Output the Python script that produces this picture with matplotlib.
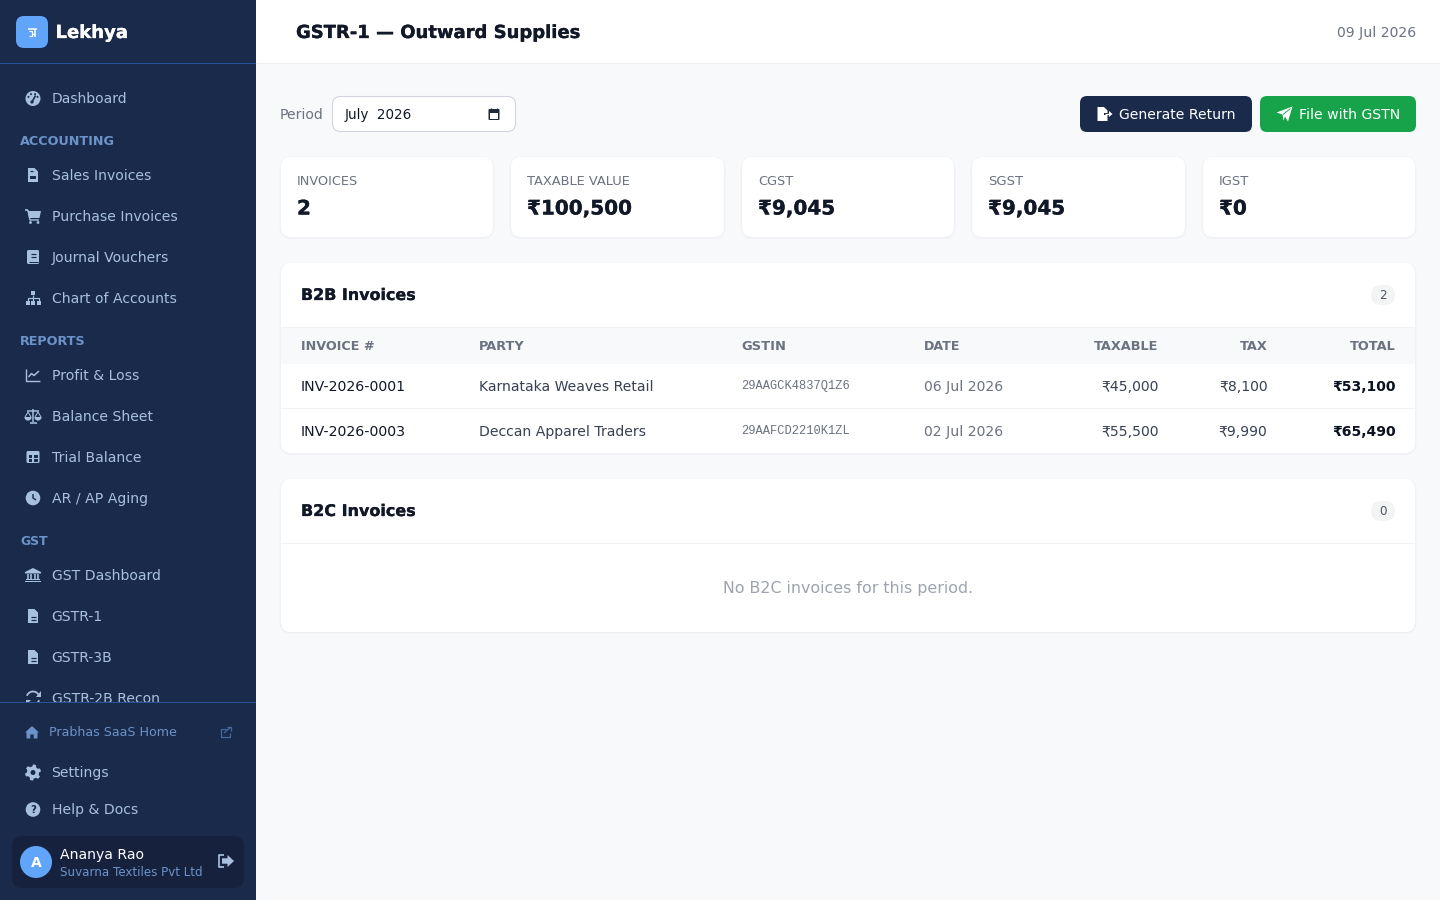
import numpy as np
import matplotlib
matplotlib.use("Agg")
import matplotlib.pyplot as plt
import matplotlib.patheffects as pe
from matplotlib.patches import FancyBboxPatch, Rectangle, Circle, Polygon, Wedge

# ---------- content ----------
brand = "Lekhya"
page_title = "GSTR-1 — Outward Supplies"
page_date = "09 Jul 2026"
period_label = "Period"
period_value = "July  2026"
btn_generate = "Generate Return"
btn_file = "File with GSTN"

nav_top = ["Dashboard"]
nav_accounting = ["Sales Invoices", "Purchase Invoices", "Journal Vouchers", "Chart of Accounts"]
nav_reports = ["Profit & Loss", "Balance Sheet", "Trial Balance", "AR / AP Aging"]
nav_gst = ["GST Dashboard", "GSTR-1", "GSTR-3B", "GSTR-2B Recon"]
sections = ["ACCOUNTING", "REPORTS", "GST"]
footer_link = "Prabhas SaaS Home"
footer_nav = ["Settings", "Help & Docs"]
user_initial = "A"
user_name = "Ananya Rao"
user_org = "Suvarna Textiles Pvt Ltd"

kpi_labels = ["INVOICES", "TAXABLE VALUE", "CGST", "SGST", "IGST"]
kpi_values = ["2", "₹100,500", "₹9,045", "₹9,045", "₹0"]

b2b_title = "B2B Invoices"
b2b_count = "2"
table_headers = ["INVOICE #", "PARTY", "GSTIN", "DATE", "TAXABLE", "TAX", "TOTAL"]
invoice_ids = ["INV-2026-0001", "INV-2026-0003"]
parties = ["Karnataka Weaves Retail", "Deccan Apparel Traders"]
gstins = ["29AAGCK4837Q1Z6", "29AAFCD2210K1ZL"]
dates = ["06 Jul 2026", "02 Jul 2026"]
taxable = ["₹45,000", "₹55,500"]
tax = ["₹8,100", "₹9,990"]
totals = ["₹53,100", "₹65,490"]

b2c_title = "B2C Invoices"
b2c_count = "0"
b2c_empty = "No B2C invoices for this period."

# ---------- palette ----------
NAVY = "#1a2a4a"
NAVY_DK = "#16213e"
RULE = "#2a5298"
BLUE = "#60a5fa"
NAV = "#a8c0e0"
SEC = "#6b93c9"
LINK = "#6b93c9"
BG = "#f8f9fb"
INK = "#111827"
INK2 = "#374151"
MUTE = "#6b7280"
FAINT = "#9ca3af"
LINE = "#f1f2f5"
GREEN = "#16a34a"

plt.rcParams["font.family"] = ["DejaVu Sans"]
fig = plt.figure(figsize=(14.4, 9), dpi=100, facecolor=BG)
ax = fig.add_axes([0, 0, 1, 1])
ax.set_xlim(0, 1440)
ax.set_ylim(900, 0)
ax.axis("off")
PX = 0.72
ZB = 0.0  # z-offset; raised while drawing above the sidebar footer panel


def T(x, y, s, px=14, color=INK, weight="normal", ha="left", family=None, width=None, z=5):
    t = ax.text(x, y, s, fontsize=px * PX, color=color, fontweight=weight, ha=ha, va="baseline",
                zorder=z + ZB, family=family or "DejaVu Sans")
    if width:
        r = fig.canvas.get_renderer()
        w = t.get_window_extent(r).width
        t.set_fontsize(px * PX * width / w)
    if weight == "bold" and px >= 17:
        t.set_path_effects([pe.withStroke(linewidth=0.2, foreground=color)])
    return t


def RR(x0, y0, x1, y1, r, fc, ec="none", lw=0, z=1):
    p = FancyBboxPatch((x0 + r, y0 + r), x1 - x0 - 2 * r, y1 - y0 - 2 * r,
                       boxstyle=f"round,pad={r},rounding_size={r}", fc=fc, ec=ec, lw=lw, zorder=z + ZB,
                       mutation_aspect=1)
    ax.add_patch(p)
    return p


def R(x0, y0, x1, y1, fc, z=1):
    ax.add_patch(Rectangle((x0, y0), x1 - x0, y1 - y0, fc=fc, ec="none", zorder=z + ZB))


def C(x, y, r, fc, z=4):
    ax.add_patch(Circle((x, y), r, fc=fc, ec="none", zorder=z + ZB))


def P(pts, fc, z=4):
    ax.add_patch(Polygon(pts, closed=True, fc=fc, ec="none", zorder=z + ZB))


def L(xs, ys, c, lw=1.2, z=4.5):
    ax.plot(xs, ys, color=c, lw=lw * PX, solid_capstyle="butt", zorder=z + ZB)


def card(x0, y0, x1, y1, r=10):
    for g, col in ((2, "#f3f4f7"), (1, "#eef0f3")):
        RR(x0 - g + 0.5, y0 - g + 1.5, x1 + g - 0.5, y1 + g, r + g, col, z=1)
    RR(x0, y0, x1, y1, r, "white", z=1.2)


# ---------- icons ----------
def ic_doc(x, y, c=NAV, kind="lines"):
    P([(x - 5, y - 7), (x + 1.5, y - 7), (x + 5, y - 3.5), (x + 5, y + 7), (x - 5, y + 7)], c)
    if kind == "lines":
        L([x - 2.5, x + 2.5], [y + 1, y + 1], NAVY)
        L([x - 2.5, x + 2.5], [y + 3.8, y + 3.8], NAVY)
    else:
        R(x - 3, y + 0.5, x + 3, y + 4, NAVY, z=4.5)
        L([x - 3, x - 0.5], [y - 4, y - 4], NAVY)


def ic_gauge(x, y, c=NAV):
    C(x, y, 7.5, c)
    for a in (200, 245, 295, 340):
        C(x + 4.8 * np.cos(np.radians(a)), y + 4.8 * np.sin(np.radians(a)), 1, NAVY, z=4.5)
    L([x - 1, x + 2.5], [y + 3.5, y - 3], NAVY, 1.6)
    C(x - 1, y + 3.5, 1.6, NAVY, z=4.5)


def ic_cart(x, y, c=NAV):
    L([x - 8, x - 5], [y - 6, y - 6], c, 1.6)
    P([(x - 5.5, y - 5), (x + 8, y - 5), (x + 6.5, y + 2), (x - 4, y + 2)], c)
    L([x - 5, x - 3, x + 6], [y - 6, y + 4, y + 4], c, 1.4)
    C(x - 2.5, y + 6.5, 1.4, c)
    C(x + 5, y + 6.5, 1.4, c)


def ic_book(x, y, c=NAV):
    RR(x - 6, y - 7, x + 6, y + 7, 1.5, c, z=4)
    L([x - 2.5, x + 3], [y - 3, y - 3], NAVY)
    L([x - 2.5, x + 3], [y, y], NAVY)
    L([x - 4, x + 5], [y + 4.5, y + 4.5], NAVY, 1)


def ic_sitemap(x, y, c=NAV):
    R(x - 2, y - 7, x + 2, y - 3, c, z=4)
    R(x - 7.5, y + 2.5, x - 3.5, y + 6.5, c, z=4)
    R(x - 2, y + 2.5, x + 2, y + 6.5, c, z=4)
    R(x + 3.5, y + 2.5, x + 7.5, y + 6.5, c, z=4)
    L([x, x], [y - 3, y + 2.5], c)
    L([x - 5.5, x - 5.5, x + 5.5, x + 5.5], [y + 2.5, y - 0.5, y - 0.5, y + 2.5], c)


def ic_linechart(x, y, c=NAV):
    L([x - 7, x - 7, x + 7], [y - 6, y + 6, y + 6], c, 1.4)
    L([x - 4.5, x - 1.5, x + 1, x + 6], [y + 2, y - 1.5, y + 0.5, y - 4], c, 1.5)


def ic_scale(x, y, c=NAV):
    L([x, x], [y - 7, y + 6], c, 1.5)
    L([x - 6, x + 6], [y - 5, y - 5], c, 1.5)
    L([x - 3.5, x + 3.5], [y + 6.5, y + 6.5], c, 1.6)
    for dx in (-5, 5):
        L([x + dx - 3, x + dx, x + dx + 3], [y + 1, y - 4, y + 1], c, 1)
        ax.add_patch(Wedge((x + dx, y + 1), 3.6, 0, 180, fc=c, ec="none", zorder=4 + ZB))


def ic_table(x, y, c=NAV):
    RR(x - 6.5, y - 6, x + 6.5, y + 6, 1.5, c, z=4)
    R(x - 4.5, y - 2, x - 0.7, y + 0.8, NAVY, z=4.5)
    R(x + 0.7, y - 2, x + 4.5, y + 0.8, NAVY, z=4.5)
    R(x - 4.5, y + 2, x - 0.7, y + 4.5, NAVY, z=4.5)
    R(x + 0.7, y + 2, x + 4.5, y + 4.5, NAVY, z=4.5)


def ic_clock(x, y, c=NAV):
    C(x, y, 7.3, c)
    L([x, x, x + 3], [y - 4, y, y + 2], NAVY, 1.4)


def ic_bank(x, y, c=NAV):
    P([(x, y - 7), (x + 8, y - 3), (x + 8, y - 1.5), (x - 8, y - 1.5), (x - 8, y - 3)], c)
    for dx in (-5, -1.7, 1.7, 5):
        L([x + dx, x + dx], [y - 1, y + 4], c, 1.6)
    R(x - 7, y + 4, x + 7, y + 5.3, c, z=4)
    R(x - 8, y + 5.8, x + 8, y + 7.2, c, z=4)


def ic_sync(x, y, c=NAV):
    t = np.radians(np.linspace(200, 340, 14))
    L(x + 6.5 * np.cos(t), y + 6.5 * np.sin(t), c, 1.8)
    L(x + 6.5 * np.cos(t + np.pi), y + 6.5 * np.sin(t + np.pi), c, 1.8)
    P([(x + 7.5, y - 7), (x + 7.5, y - 1.5), (x + 2.5, y - 1.5)], c)
    P([(x - 7.5, y + 7), (x - 7.5, y + 1.5), (x - 2.5, y + 1.5)], c)


def ic_home(x, y, c=LINK):
    P([(x, y - 6.5), (x + 7, y), (x + 5.5, y), (x + 5.5, y + 6), (x + 1.7, y + 6), (x + 1.7, y + 2),
       (x - 1.7, y + 2), (x - 1.7, y + 6), (x - 5.5, y + 6), (x - 5.5, y), (x - 7, y)], c)


def ic_ext(x, y, c="#466a9e"):
    L([x + 0.5, x - 5, x - 5, x + 4, x + 4], [y - 3.5, y - 3.5, y + 5, y + 5, y + 0.5], c, 1.2)
    L([x - 1.5, x + 5.2], [y + 1, y - 5], c, 1.3)
    L([x + 1, x + 5.5, x + 5.5], [y - 5, y - 5, y - 1], c, 1.3)


def ic_gear(x, y, c=NAV):
    a = np.radians(np.arange(0, 360, 7.5) + 30)
    rr = np.where((np.arange(len(a)) % 8) < 4, 8, 6)
    P(np.c_[x + rr * np.cos(a), y + rr * np.sin(a)], c)
    C(x, y, 2.5, NAVY, z=4.5)


def ic_help(x, y, c=NAV):
    C(x, y, 7.3, c)
    ax.text(x, y + 3.4, "?", fontsize=7.3, color=NAVY, ha="center", va="baseline",
            fontweight="bold", zorder=4.5 + ZB)


def ic_logout(x, y, c=NAV):
    L([x - 2, x - 7, x - 7, x - 2], [y - 6, y - 6, y + 6, y + 6], c, 1.7)
    P([(x + 1.5, y - 6), (x + 8, y), (x + 1.5, y + 6), (x + 1.5, y + 2.7), (x - 4, y + 2.7), (x - 4, y - 2.7),
       (x + 1.5, y - 2.7)], c)


def ic_export(x, y, c="white"):
    P([(x - 6.5, y - 7), (x, y - 7), (x + 3.5, y - 3.5), (x + 3.5, y - 1), (x + 0, y - 1), (x + 0, y + 1),
       (x + 3.5, y + 1), (x + 3.5, y + 7), (x - 6.5, y + 7)], c)
    P([(x + 5, y - 3), (x + 8.5, y), (x + 5, y + 3)], c)
    L([x + 1, x + 6], [y, y], c, 1.3)


def ic_plane(x, y, c="white"):
    P([(x + 8, y - 7.5), (x + 3.5, y + 7.5), (x + 0.5, y + 2.5), (x - 1, y + 6.5), (x - 2, y + 0.5), (x - 8, y - 1.5)], c)
    L([x - 1.5, x + 6], [y + 0.5, y - 5.5], GREEN, 0.9)


def ic_calendar(x, y, c="#1f2937"):
    RR(x - 5.5, y - 5, x + 5.5, y + 6, 1, c, z=4)
    R(x - 4, y - 1.5, x + 4, y + 4.5, "white", z=4.5)
    L([x - 3, x - 3], [y - 6.5, y - 4], c)
    L([x + 3, x + 3], [y - 6.5, y - 4], c)


# ---------- sidebar ----------
R(0, 0, 256, 900, NAVY, z=0.5)
R(0, 63, 256, 64, RULE, z=2)
RR(16, 16, 48, 48, 8, BLUE, z=2)
# Devanagari letter of the logo (no installed font has it): strokes
L([27.5, 37], [28.5, 28.5], "white", 1.5)
L([34.8, 34.8], [28.5, 37], "white", 1.5)
L([29, 31.8, 31.8, 28.5], [31.3, 31.3, 35.8, 35.8], "white", 1.2)
L([31.8, 35], [33.8, 33.8], "white", 1.2)
T(55.5, 38, brand, 20, "white", "bold", width=72.5)

cx, tx = 33, 51.5
T(tx, 103, nav_top[0], 14, NAV, width=75.5)
ic_gauge(cx, 98.5)


def nav_group(title, tw, items, icons, sec_y, first_y, step=41):
    T(20, sec_y, title, 11.5, SEC, "bold", width=tw)
    for i, (lab, ic) in enumerate(zip(items, icons)):
        yy = first_y + i * step
        T(tx, yy + 5, lab, 14, NAV)
        ic(cx, yy)


nav_group(sections[0], 95, nav_accounting,
          [lambda x, y: ic_doc(x, y, kind="box"), ic_cart, ic_book, ic_sitemap], 145, 175)
nav_group(sections[1], 66, nav_reports, [ic_linechart, ic_scale, ic_table, ic_clock], 345, 375)
nav_group(sections[2], 28, nav_gst, [ic_bank, ic_doc, ic_doc, ic_sync], 545, 575)

# sidebar footer panel covers the clipped last nav item
R(0, 702, 256, 900, NAVY, z=6)
R(0, 702, 256, 703, RULE, z=6.1)
ZB = 3.0
T(49, 736, footer_link, 12.5, LINK, width=128)
ic_home(32, 732.5)
ic_ext(225.5, 732)
ic_gear(33, 772.5)
ic_help(33, 809.5)
T(tx, 777, footer_nav[0], 14, NAV)
T(tx, 814, footer_nav[1], 14, NAV)
RR(12, 836, 244, 888, 10, NAVY_DK, z=3.5)
C(36, 862, 16, BLUE, z=3.6)
T(36, 867, user_initial, 14, "white", "bold", ha="center")
T(60, 859, user_name, 14, "white", width=84)
T(60, 876, user_org, 12, LINK, width=143)
ic_logout(226, 861)
ZB = 0.0

# ---------- top bar ----------
R(256, 0, 1440, 64, "white", z=1)
R(256, 63, 1440, 64, "#eceef1", z=1.1)
T(296, 38, page_title, 19, INK, "bold", width=285)
T(1416, 37, page_date, 14, MUTE, ha="right")

# ---------- toolbar ----------
T(280, 119, period_label, 14, MUTE)
RR(332.5, 96.5, 515.5, 131.5, 8, "white", ec="#d1d5db", lw=0.8, z=2)
T(345, 119, period_value, 13.33, INK, width=68)
ic_calendar(494, 114)
RR(1080, 96, 1252, 132, 7, NAVY, z=2)
ic_export(1104, 114)
T(1119, 119, btn_generate, 14, "white", width=116.5)
RR(1260, 96, 1416, 132, 7, GREEN, z=2)
ic_plane(1284.5, 114)
T(1299, 119, btn_file, 14, "white", width=101)

# ---------- KPI cards ----------
card_x = [(281, 493), (511, 724), (742, 954), (972, 1185), (1203, 1415)]
lab_w = [61, 103, 35, 35, 30]
for (x0, x1), lab, val, w in zip(card_x, kpi_labels, kpi_values, lab_w):
    card(x0, 157, x1, 237)
    T(x0 + 16, 185, lab, 12, MUTE, width=w)
    T(x0 + 16, 214.5, val, 20, INK, "bold")

# ---------- B2B ----------
card(281, 263, 1415, 453)
T(301, 300, b2b_title, 17, INK, "bold", width=115)
RR(1371, 285, 1395, 305, 10, "#f3f4f6", z=2)
T(1383, 299, b2b_count, 12, "#4b5563", ha="center")
R(281, 327, 1415, 364, "#f8f9fa", z=1.5)
R(281, 327, 1415, 328, LINE, z=1.6)
R(281, 408, 1415, 409, LINE, z=1.6)

col_x = [301, 479, 741.5, 924]
col_r = [1158.5, 1267.5, 1395.5]
head_w = [74, 46, 45, 37, 65, 28, 46]
for i, (h, w) in enumerate(zip(table_headers, head_w)):
    if i < 4:
        T(col_x[i], 350, h, 12, MUTE, "bold", width=w)
    else:
        T(col_r[i - 4], 350, h, 12, MUTE, "bold", ha="right", width=w)

for i in range(len(invoice_ids)):
    b = 391 + 45 * i
    T(col_x[0], b, invoice_ids[i], 14, INK, width=105)
    T(col_x[1], b, parties[i], 14, INK2)
    T(col_x[2], b - 2, gstins[i], 12, MUTE, family="Liberation Mono")
    T(col_x[3], b, dates[i], 14, MUTE)
    T(col_r[0], b, taxable[i], 14, INK2, ha="right")
    T(col_r[1], b, tax[i], 14, INK2, ha="right")
    T(col_r[2], b, totals[i], 14, "#0b1220", "bold", ha="right")

# ---------- B2C ----------
card(281, 479, 1415, 632)
T(301, 516, b2c_title, 17, INK, "bold", width=115)
RR(1371, 501, 1395, 521, 10, "#f3f4f6", z=2)
T(1383, 515, b2c_count, 12, "#4b5563", ha="center")
R(281, 543, 1415, 544, LINE, z=1.6)
T(848, 593, b2c_empty, 16, FAINT, ha="center", width=252)

fig.savefig("out.png", dpi=100, facecolor=BG)
